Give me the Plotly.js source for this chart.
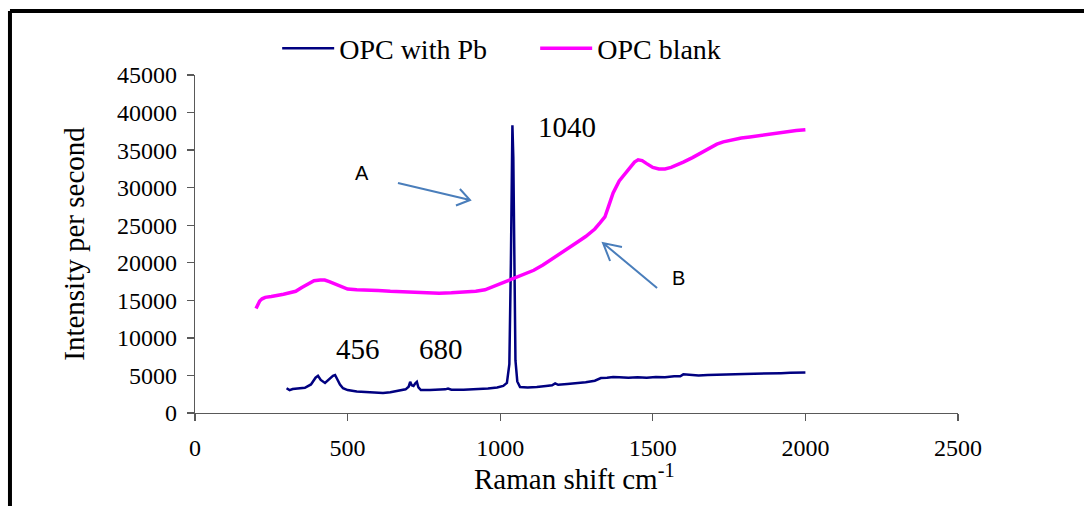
<!DOCTYPE html>
<html>
<head>
<meta charset="utf-8">
<script src="https://cdn.plot.ly/plotly-3.0.1.min.js"></script>
<style>html,body{margin:0;padding:0;background:#fff;}#chart{width:1084px;height:506px;}</style>
</head>
<body>
<div id="chart"></div>
<script>
// OPC with Pb (navy)
const pbShift = [300,310,320,340,360,380,395,403,412,426,440,452,459,466,475,485,500,530,560,590,616,640,670,690,700,705,710,716,722,727,732,740,770,800,820,829,840,880,920,960,990,1010,1022,1030,1035,1038,1040,1043,1046,1050,1056,1065,1090,1120,1150,1170,1180,1190,1220,1250,1280,1310,1330,1350,1370,1390,1420,1450,1480,1510,1540,1570,1590,1600,1620,1650,1680,1710,1740,1770,1800,1830,1860,1890,1920,1950,1980,2000];
const pbIntensity = [3300,3050,3200,3250,3350,3800,4700,4950,4400,4000,4500,4950,5060,4500,3800,3300,3050,2850,2750,2700,2650,2750,2950,3150,3500,4150,3700,3600,3950,4150,3400,3050,3050,3050,3150,3250,3100,3100,3150,3250,3400,3600,4000,6500,20000,33000,38300,34000,20000,7000,4200,3450,3400,3450,3600,3700,3950,3750,3850,3950,4100,4300,4650,4700,4800,4750,4700,4750,4700,4800,4750,4900,4900,5150,5100,5000,5050,5050,5100,5150,5200,5200,5250,5250,5300,5350,5400,5400];
// OPC blank (magenta)
const blankShift = [200,205,212,220,230,250,270,290,310,330,350,370,390,410,425,440,460,480,500,530,560,600,640,680,720,760,800,840,880,920,950,975,1000,1025,1050,1080,1110,1140,1163,1190,1220,1251,1280,1310,1327,1343,1355,1370,1390,1410,1425,1440,1452,1465,1480,1500,1520,1540,1560,1580,1600,1630,1655,1680,1710,1731,1760,1790,1818,1850,1880,1910,1940,1970,2000];
const blankIntensity = [13900,14400,14900,15200,15400,15500,15600,15800,16000,16200,16700,17200,17600,17700,17700,17500,17200,16800,16500,16400,16400,16300,16200,16150,16000,15950,15950,16000,16050,16200,16400,16800,17300,17700,18050,18500,19000,19700,20350,21100,21900,22700,23500,24500,25300,26100,27500,29300,30900,31900,32700,33400,33700,33600,33200,32700,32500,32500,32700,33000,33400,34000,34600,35200,35800,36100,36400,36600,36750,36950,37150,37300,37500,37600,37700];

const seriesNames = ['OPC with Pb', 'OPC blank'];
const xTitle = 'Raman shift cm<sup>-1</sup>';
const yTitle = 'Intensity per second';
const xTickVals = [0,500,1000,1500,2000,2500];
const yTickVals = [0,5000,10000,15000,20000,25000,30000,35000,40000,45000];
const peakLabels = ['456','680','1040'];
const peakLabelX = [534, 806, 1219];
const peakLabelY = [8520, 8520, 38080];

const serif = '"Liberation Serif", "Times New Roman", serif';
const sans = '"Liberation Sans", Arial, sans-serif';

const traces = [
  {x: pbShift, y: pbIntensity, name: seriesNames[0], type: 'scatter', mode: 'lines',
   line: {color: '#000080', width: 2.5}},
  {x: blankShift, y: blankIntensity, name: seriesNames[1], type: 'scatter', mode: 'lines',
   line: {color: '#FF00FF', width: 3.5}}
];

const annotations = peakLabels.map((t, i) => ({
  x: peakLabelX[i], y: peakLabelY[i], xref: 'x', yref: 'y', text: t, showarrow: false,
  font: {family: serif, size: 29, color: '#000'}
}));
annotations.push({x: 547, y: 31950, xref: 'x', yref: 'y', text: 'A', showarrow: false,
  font: {family: sans, size: 20, color: '#000'}});
annotations.push({x: 1583, y: 17970, xref: 'x', yref: 'y', text: 'B', showarrow: false,
  font: {family: sans, size: 20, color: '#000'}});
// x-axis title, placed close to the tick labels as in the original
annotations.push({x: 0.497, y: -0.19, xref: 'paper', yref: 'paper', text: xTitle, showarrow: false,
  xanchor: 'center', yanchor: 'middle', font: {family: serif, size: 29, color: '#000'}});

const arrowStyle = {color: '#4A7EBB', width: 2};
const shapes = [
  // arrow A
  {type: 'path', xref: 'x', yref: 'y', path: 'M665,30622 L901,28358 M868,29823 L901,28358 L855,27626', line: arrowStyle},
  // arrow B
  {type: 'path', xref: 'x', yref: 'y', path: 'M1514,16642 L1337,22634 M1399,22101 L1337,22634 L1360,20237', line: arrowStyle},
  // outer frame (top and left)
  {type: 'line', xref: 'paper', yref: 'paper', x0: -0.2425, x1: 1.2, y0: 1.1893, y1: 1.1893, line: {color: '#000', width: 4}},
  {type: 'line', xref: 'paper', yref: 'paper', x0: -0.2425, x1: -0.2425, y0: 1.1893, y1: -0.3, line: {color: '#000', width: 4}}
];

const axisCommon = {
  showgrid: false, zeroline: false, showline: true, linecolor: '#595959', linewidth: 1.3,
  ticks: 'outside', ticklen: 7, tickwidth: 1.3, tickcolor: '#595959',
  tickfont: {family: serif, size: 24, color: '#000'},
  tickformat: 'd', exponentformat: 'none', fixedrange: true
};

const layout = {
  width: 1084, height: 506,
  margin: {l: 195, r: 126, t: 75, b: 93},
  paper_bgcolor: '#fff', plot_bgcolor: '#fff',
  showlegend: true,
  legend: {orientation: 'h', x: 0.1077, xanchor: 'left', y: 1.152, yanchor: 'top',
    font: {family: serif, size: 28, color: '#000'}, entrywidth: 191, entrywidthmode: 'pixels',
    itemwidth: 52, bgcolor: 'rgba(0,0,0,0)'},
  xaxis: Object.assign({}, axisCommon, {range: [0, 2500], tickvals: xTickVals, ticklabelstandoff: 6}),
  yaxis: Object.assign({}, axisCommon, {range: [0, 45000], tickvals: yTickVals, ticklabelstandoff: 5,
    automargin: true,
    title: {text: yTitle, font: {family: serif, size: 29, color: '#000'}, standoff: 23}}),
  annotations: annotations,
  shapes: shapes
};

Plotly.newPlot('chart', traces, layout, {staticPlot: true, displayModeBar: false});
</script>
</body>
</html>
